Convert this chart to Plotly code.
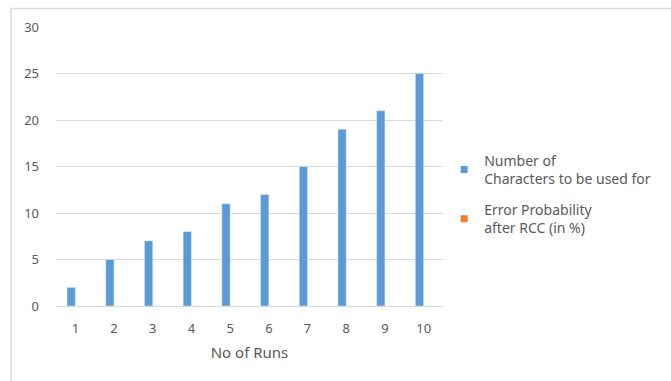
import plotly.graph_objects as go

runs = ["1", "2", "3", "4", "5", "6", "7", "8", "9", "10"]
characters = [2, 5, 7, 8, 11, 12, 15, 19, 21, 25]
error_prob = [0, 0, 0, 0, 0, 0, 0, 0, 0, 0]
y_ticks = [0, 5, 10, 15, 20, 25, 30]

blue = "#5B9BD5"
orange = "#ED7D31"
text_col = "#595959"
grid_col = "#D9D9D9"

fig = go.Figure()
fig.add_trace(go.Bar(x=runs, y=characters, marker_color=blue, showlegend=False,
                     name="Number of Characters to be used for"))
fig.add_trace(go.Bar(x=runs, y=error_prob, marker_color=orange, showlegend=False,
                     name="Error Probability after RCC (in %)"))

# legend entries with small square swatches
fig.add_trace(go.Scatter(x=[None], y=[None], mode="markers",
                         marker=dict(symbol="square", size=7, color=blue),
                         name="Number of<br>Characters to be used for",
                         legendgroup="a"))
fig.add_trace(go.Scatter(x=[None], y=[None], mode="markers",
                         marker=dict(symbol="square", size=7, color=orange),
                         name="Error Probability<br>after RCC (in %)",
                         legendgroup="b"))

fig.update_layout(
    width=671, height=381,
    margin=dict(l=56, r=228, t=27, b=75),
    paper_bgcolor="white", plot_bgcolor="white",
    font=dict(family="Noto Sans", size=13, color=text_col),
    barmode="group", bargap=0.57, bargroupgap=0,
    legend=dict(x=1.003, y=0.578, xanchor="left", yanchor="top",
                traceorder="grouped", tracegroupgap=10,
                itemwidth=30, font=dict(size=14, color=text_col),
                bgcolor="rgba(0,0,0,0)"),
    xaxis=dict(type="category", showgrid=False, showline=True, linecolor=grid_col,
               linewidth=1, ticks="", ticklabelstandoff=10,
               title=dict(text="No of Runs", standoff=11, font=dict(size=15, color=text_col))),
    yaxis=dict(range=[0, 30], tickvals=y_ticks, showgrid=True, gridcolor=grid_col,
               zeroline=False, showline=False, ticks="", ticklabelstandoff=16),
    shapes=[
        dict(type="line", xref="paper", yref="paper", x0=-0.1163, x1=1.6,
             y0=1.0663, y1=1.0663, line=dict(color="#D9D9D9", width=1.5)),
        dict(type="line", xref="paper", yref="paper", x0=-0.1163, x1=-0.1163,
             y0=1.0663, y1=-0.3, line=dict(color="#D9D9D9", width=1.5)),
    ],
)

fig.write_html("out.html")
